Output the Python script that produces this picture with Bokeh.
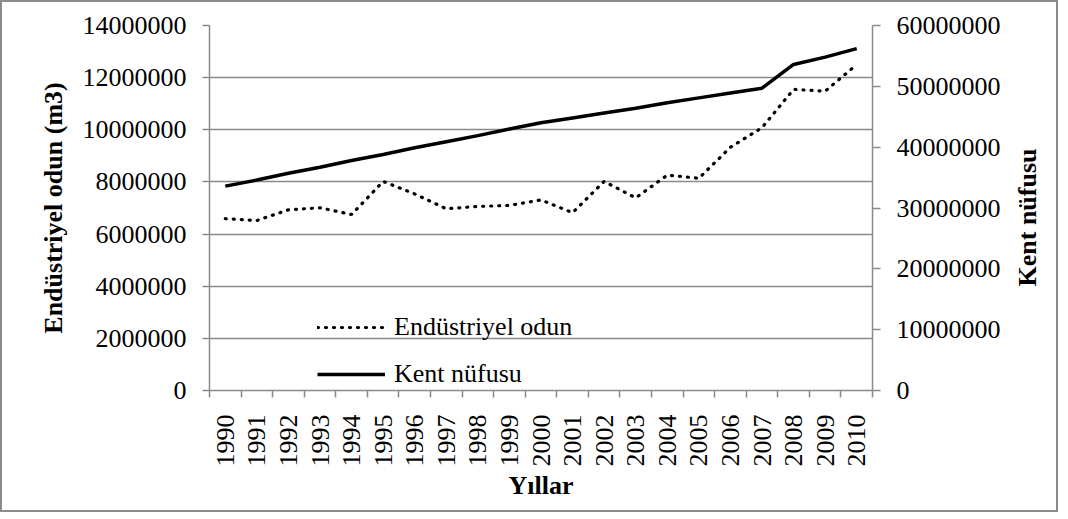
import math
from bokeh.plotting import figure
from bokeh.models import (Range1d, LinearAxis, FixedTicker, SingleIntervalTicker,
                          BasicTickFormatter, Legend, LegendItem)
from bokeh.embed import file_html
from bokeh.resources import INLINE

years = [1990, 1991, 1992, 1993, 1994, 1995, 1996, 1997, 1998, 1999, 2000,
         2001, 2002, 2003, 2004, 2005, 2006, 2007, 2008, 2009, 2010]
endustriyel_odun = [6590000, 6520000, 6930000, 7010000, 6750000, 8020000, 7540000,
                    6970000, 7060000, 7100000, 7310000, 6820000, 8020000, 7390000,
                    8260000, 8140000, 9330000, 10080000, 11550000, 11480000, 12500000]
kent_nufusu = [33600000, 34600000, 35700000, 36700000, 37800000, 38800000, 39900000,
               40900000, 41900000, 43000000, 44000000, 44800000, 45600000, 46400000,
               47300000, 48100000, 48900000, 49700000, 53600000, 54800000, 56200000]
left_label = "Endüstriyel odun (m3)"
right_label = "Kent nüfusu"
x_label = "Yıllar"

FONT = "'Liberation Serif'"
GRAY = "#8a8a8a"

p = figure(width=1058, height=512, output_backend="svg", toolbar_location=None,
           x_range=Range1d(years[0] - 0.5, years[-1] + 0.5),
           y_range=Range1d(0, 14000000),
           min_border_left=207, min_border_right=188, min_border_top=23,
           min_border_bottom=124)
p.extra_y_ranges = {"pop": Range1d(0, 60000000)}
p.outline_line_color = None
p.background_fill_color = "white"
p.border_fill_color = "white"
p.styles = {"border": "2px solid #8c8c8c"}

p.xgrid.grid_line_color = None
p.ygrid.grid_line_color = GRAY
p.ygrid.grid_line_width = 1.5
p.ygrid.ticker = SingleIntervalTicker(interval=2000000)

# x axis
xa = p.xaxis[0]
xa.ticker = FixedTicker(ticks=years, minor_ticks=[y - 0.5 for y in years] + [years[-1] + 0.5])
xa.major_tick_out = 0
xa.major_tick_in = 0
xa.minor_tick_out = 7
xa.minor_tick_in = 0
xa.minor_tick_line_color = GRAY
xa.minor_tick_line_width = 1.5
xa.major_label_orientation = math.pi / 2
xa.major_label_standoff = 17
xa.formatter = BasicTickFormatter(use_scientific=False)
xa.axis_label = x_label
xa.axis_label_standoff = 1

# left axis
ya = p.yaxis[0]
ya.ticker = SingleIntervalTicker(interval=2000000)
ya.formatter = BasicTickFormatter(use_scientific=False)
ya.minor_tick_line_color = None
ya.major_tick_out = 7
ya.major_tick_in = 0
ya.major_label_standoff = 16
ya.axis_label = left_label
ya.axis_label_standoff = 12

# right axis (title reads bottom-to-top, as in the reference)
ra = LinearAxis(y_range_name="pop", ticker=SingleIntervalTicker(interval=10000000),
                formatter=BasicTickFormatter(use_scientific=False))
ra.minor_tick_line_color = None
ra.major_tick_out = 8
ra.major_tick_in = 0
ra.major_label_standoff = 16
ra.axis_label_standoff = 24
if "axis_label_orientation" in ra.properties():
    ra.axis_label_orientation = math.pi / 2
    ra.axis_label_align = "start"
    ra.axis_label = "\u00a0" * 16 + right_label
else:
    ra.axis_label = right_label
p.add_layout(ra, "right")

for ax in [xa, ya, ra]:
    ax.axis_line_color = GRAY
    ax.axis_line_width = 1.5
    ax.major_tick_line_color = GRAY
    ax.major_tick_line_width = 1.5
    ax.major_label_text_font = FONT
    ax.major_label_text_font_size = "26px"
    ax.major_label_text_color = "black"
    ax.axis_label_text_font = FONT
    ax.axis_label_text_font_size = "26px"
    ax.axis_label_text_font_style = "bold"
    ax.axis_label_text_color = "black"

r_odun = p.line(years, endustriyel_odun, line_color="black", line_width=3.2,
                line_dash="1 7", line_cap="round")
r_kent = p.line(years, kent_nufusu, line_color="black", line_width=3.5,
                y_range_name="pop")

legend = Legend(items=[LegendItem(label="Endüstriyel odun", renderers=[r_odun]),
                       LegendItem(label="Kent nüfusu", renderers=[r_kent])],
                location=(108, 0), orientation="vertical",
                border_line_color=None, background_fill_alpha=0,
                padding=0, margin=0, spacing=15,
                glyph_width=68, glyph_height=32, label_height=32,
                label_standoff=9, label_text_font=FONT,
                label_text_font_size="26px", label_text_color="black")
p.add_layout(legend, "center")

open("out.html", "w").write(file_html(p, INLINE))
